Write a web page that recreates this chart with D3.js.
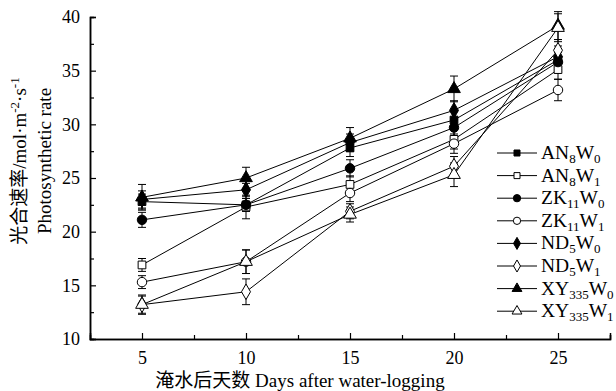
<!DOCTYPE html>
<html><head><meta charset="utf-8">
<script src="https://cdn.jsdelivr.net/npm/d3@7"></script>
<style>body{margin:0;background:#fff}</style>
</head><body>
<svg id="c" width="616" height="391"></svg>
<script>
const days = [5, 10, 15, 20, 25];
const xTicks = [5, 10, 15, 20, 25];
const yTicks = [10, 15, 20, 25, 30, 35, 40];
const seriesNames = ["AN8W0","AN8W1","ZK11W0","ZK11W1","ND5W0","ND5W1","XY335W0","XY335W1"];
const AN8W0   = [22.8, 22.5, 27.8, 30.4, 36.0];
const AN8W1   = [16.9, 22.3, 24.4, 28.6, 35.1];
const ZK11W0  = [21.1, 22.5, 25.9, 29.7, 35.8];
const ZK11W1  = [15.3, 17.2, 23.6, 28.2, 33.2];
const ND5W0   = [23.0, 23.9, 28.3, 31.3, 36.3];
const ND5W1   = [13.2, 14.4, 21.9, 26.1, 36.9];
const XY335W0 = [23.2, 25.0, 28.7, 33.3, 39.2];
const XY335W1 = [13.2, 17.2, 21.6, 25.3, 39.0];
const AN8W0_err   = [0.7, 0.6, 0.8, 0.8, 0.9];
const AN8W1_err   = [0.6, 1.1, 0.8, 0.9, 0.9];
const ZK11W0_err  = [0.7, 0.6, 0.8, 0.8, 0.9];
const ZK11W1_err  = [0.6, 1.1, 0.8, 0.9, 1.0];
const ND5W0_err   = [0.8, 0.6, 0.8, 0.9, 1.0];
const ND5W1_err   = [0.8, 1.2, 0.7, 0.9, 1.0];
const XY335W0_err = [1.2, 1.0, 1.0, 1.2, 1.3];
const XY335W1_err = [0.9, 1.1, 0.7, 1.1, 1.3];

const values = [AN8W0, AN8W1, ZK11W0, ZK11W1, ND5W0, ND5W1, XY335W0, XY335W1];
const errs = [AN8W0_err, AN8W1_err, ZK11W0_err, ZK11W1_err, ND5W0_err, ND5W1_err, XY335W0_err, XY335W1_err];
const shapes = ["square","square","circle","circle","diamond","diamond","triangle","triangle"];
const filled = [true,false,true,false,true,false,true,false];
const legendParts = [["AN","8","W","0"],["AN","8","W","1"],["ZK","11","W","0"],["ZK","11","W","1"],["ND","5","W","0"],["ND","5","W","1"],["XY","335","W","0"],["XY","335","W","1"]];

const svg = d3.select("#c");
const serif = "'Liberation Serif','Times New Roman',serif";
const mixed = "'Liberation Serif','Noto Sans CJK SC',serif";
const x = d3.scaleLinear().domain([2.5, 27.5]).range([90, 610]);
const y = d3.scaleLinear().domain([10, 40]).range([339, 17]);

const symSize = {square: 60, circle: 70, diamond: 70, triangle: 70};
const symType = {square: d3.symbolSquare, circle: d3.symbolCircle, diamond: d3.symbolDiamond, triangle: d3.symbolTriangle};
function sym(s, k){ return d3.symbol().type(symType[s]).size(symSize[s]*(k||1))(); }

// axes
const xAxis = d3.axisBottom(x).tickValues(xTicks).tickSize(-6).tickPadding(12).tickFormat(d3.format("d"));
const xMinor = d3.axisBottom(x).tickValues([7.5,12.5,17.5,22.5,27.5]).tickSize(-4).tickFormat("");
const yAxis = d3.axisLeft(y).tickValues(yTicks).tickSize(-6).tickPadding(10);
const yMinor = d3.axisLeft(y).tickValues([12.5,17.5,22.5,27.5,32.5,37.5]).tickSize(-4).tickFormat("");

function styleAxis(g){
  g.select(".domain").attr("stroke","#000").attr("stroke-width",1.5);
  g.selectAll(".tick line").attr("stroke","#000").attr("stroke-width",1.2);
  g.selectAll("text").attr("font-family",serif).attr("font-size",18).attr("fill","#000");
}
svg.append("g").attr("transform","translate(0,339)").call(xMinor).call(styleAxis);
svg.append("g").attr("transform","translate(0,339)").call(xAxis).call(styleAxis);
svg.append("g").attr("transform","translate(90,0)").call(yMinor).call(styleAxis);
svg.append("g").attr("transform","translate(90,0)").call(yAxis).call(styleAxis);

// lines
const line = d3.line().x((d,i)=>x(days[i])).y(d=>y(d));
values.forEach((v)=>{
  svg.append("path").attr("d", line(v)).attr("fill","none").attr("stroke","#000").attr("stroke-width",1);
});
// error bars
values.forEach((v,si)=>{
  v.forEach((val,i)=>{
    const e = errs[si][i], cx = x(days[i]);
    const g = svg.append("g").attr("stroke","#000").attr("stroke-width",1);
    g.append("line").attr("x1",cx).attr("x2",cx).attr("y1",y(val-e)).attr("y2",y(val+e));
    g.append("line").attr("x1",cx-4).attr("x2",cx+4).attr("y1",y(val-e)).attr("y2",y(val-e));
    g.append("line").attr("x1",cx-4).attr("x2",cx+4).attr("y1",y(val+e)).attr("y2",y(val+e));
  });
});
// markers
values.forEach((v,si)=>{
  v.forEach((val,i)=>{
    svg.append("path").attr("d", sym(shapes[si]))
      .attr("transform",`translate(${x(days[i])},${y(val)})`)
      .attr("fill", filled[si] ? "#000" : "#fff").attr("stroke","#000").attr("stroke-width",1);
  });
});

// legend
const lg = svg.append("g");
legendParts.forEach((p,i)=>{
  const ly = 153 + i*22.6;
  lg.append("rect").attr("x",496).attr("y",ly-12).attr("width",120).attr("height",22).attr("fill","#fff");
  lg.append("line").attr("x1",497).attr("x2",537).attr("y1",ly).attr("y2",ly).attr("stroke","#000").attr("stroke-width",1);
  lg.append("path").attr("d", sym(shapes[i], 0.6))
    .attr("transform",`translate(517,${ly})`)
    .attr("fill", filled[i] ? "#000" : "#fff").attr("stroke","#000").attr("stroke-width",1);
  const t = lg.append("text").attr("x",541).attr("y",ly+6).attr("font-family",serif).attr("font-size",19.5).attr("fill","#000");
  t.append("tspan").text(p[0]);
  t.append("tspan").attr("font-size",13).attr("dy",4).text(p[1]);
  t.append("tspan").attr("dy",-4).text(p[2]);
  t.append("tspan").attr("font-size",13).attr("dy",4).text(p[3]);
});

// axis titles
svg.append("text").attr("x",300).attr("y",387).attr("text-anchor","middle")
  .attr("font-family",mixed).attr("font-size",19).attr("fill","#000")
  .text("淹水后天数 Days after water-logging");

const yt = svg.append("text").attr("transform","translate(26,161) rotate(-90)").attr("text-anchor","middle")
  .attr("font-family",mixed).attr("font-size",19).attr("fill","#000");
yt.append("tspan").text("光合速率/mol·m");
yt.append("tspan").attr("font-size",13).attr("dy",-7).text("-2");
yt.append("tspan").attr("dy",7).text("·s");
yt.append("tspan").attr("font-size",13).attr("dy",-7).text("-1");
svg.append("text").attr("transform","translate(51,161) rotate(-90)").attr("text-anchor","middle")
  .attr("font-family",serif).attr("font-size",19).attr("fill","#000").text("Photosynthetic rate");
</script>
</body></html>
